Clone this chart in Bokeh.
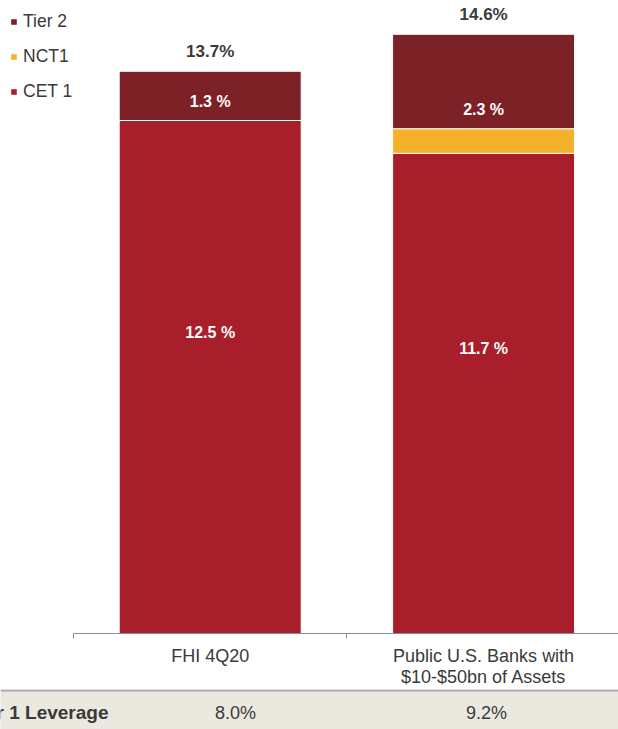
from bokeh.plotting import figure
from bokeh.models import Range1d, FixedTicker, Legend, LegendItem, ColumnDataSource, Label, Span
from bokeh.layouts import column
from bokeh.core.properties import value
from bokeh.embed import file_html
from bokeh.resources import INLINE

# ---- data ----
categories = ["FHI 4Q20", "Public U.S. Banks with\n$10-$50bn of Assets"]
cet1 = [12.5, 11.7]
nct1 = [0.0, 0.6]
tier2 = [1.2, 2.3]
cet1_labels = ["12.5 %", "11.7 %"]
tier2_labels = ["1.3 %", "2.3 %"]
total_labels = ["13.7%", "14.6%"]
series_names = ["Tier 2", "NCT1", "CET 1"]
leverage_name = "Tier 1 Leverage"
leverage_values = ["8.0%", "9.2%"]

# ---- styles ----
C_CET1 = "#a81e2a"
C_NCT1 = "#f5b12c"
C_T2 = "#7c2126"
FONT = value("Liberation Sans")
TXT = "#3a3a3a"

W = 618
CAT_PX = 273.4          # pixel width of one category
PX_PER_UNIT = 41.04     # pixels per percentage point
AXIS_LEFT = 73          # where the axis line starts
FRAME_H = 633
TOP_H = 689
TABLE_H = 729 - TOP_H

xs = [i + 0.5 for i in range(len(categories))]
nct_top = [c + n for c, n in zip(cet1, nct1)]
t2_top = [c + n + t for c, n, t in zip(cet1, nct1, tier2)]

src = ColumnDataSource(dict(
    x=xs, cet1=cet1, cet_mid=[c / 2 for c in cet1], nct_top=nct_top, t2_top=t2_top,
    cet_lab=cet1_labels, t2_lab=tier2_labels, tot_lab=total_labels,
))

p = figure(width=W, height=TOP_H,
           x_range=Range1d(-AXIS_LEFT / CAT_PX, (W - AXIS_LEFT) / CAT_PX),
           y_range=Range1d(0, FRAME_H / PX_PER_UNIT),
           output_backend="svg", toolbar_location=None,
           min_border_left=0, min_border_right=0, min_border_top=0,
           min_border_bottom=TOP_H - FRAME_H, y_axis_location=None)
p.frame_height = FRAME_H
p.frame_width = W
p.grid.visible = False
p.outline_line_color = None

bw = 182 / CAT_PX
r_c = p.vbar(x="x", bottom=0, top="cet1", width=bw, fill_color=C_CET1,
             line_color="white", line_width=1, source=src)
r_n = p.vbar(x="x", bottom="cet1", top="nct_top", width=bw, fill_color=C_NCT1,
             line_color="white", line_width=1, source=src)
r_t = p.vbar(x="x", bottom="nct_top", top="t2_top", width=bw, fill_color=C_T2,
             line_color="white", line_width=1, source=src)

p.text(x="x", y="cet_mid", text="cet_lab", y_offset=-44.5, text_align="center",
       text_baseline="middle", text_color="white", text_font=FONT,
       text_font_style="bold", text_font_size="16px", source=src)
p.text(x="x", y="nct_top", text="t2_lab", y_offset=-19, text_align="center",
       text_baseline="middle", text_color="white", text_font=FONT,
       text_font_style="bold", text_font_size="16px", source=src)
p.text(x="x", y="t2_top", text="tot_lab", y_offset=-19.5, text_align="center",
       text_baseline="middle", text_color=TXT, text_font=FONT,
       text_font_style="bold", text_font_size="17px", source=src)

ax = p.xaxis[0]
ax.bounds = (0, len(categories))
ax.ticker = FixedTicker(ticks=xs, minor_ticks=list(range(len(categories) + 1)))
ax.major_label_overrides = {x: c for x, c in zip(xs, categories)}
ax.axis_line_color = "#8c8c8c"
ax.axis_line_width = 1
ax.major_tick_line_color = None
ax.major_tick_out = 0
ax.major_tick_in = 0
ax.minor_tick_line_color = "#8c8c8c"
ax.minor_tick_out = 5
ax.minor_tick_in = 0
ax.major_label_standoff = 7
ax.major_label_text_font = "Liberation Sans"
ax.major_label_text_font_size = "18px"
ax.major_label_text_line_height = 1.05
ax.major_label_text_color = TXT

# legend swatches: proxy renderers without white outline
sw_t = p.vbar(x=[xs[0]], top=[0], width=0, fill_color=C_T2, line_color=None, visible=False)
sw_n = p.vbar(x=[xs[0]], top=[0], width=0, fill_color=C_NCT1, line_color=None, visible=False)
sw_c = p.vbar(x=[xs[0]], top=[0], width=0, fill_color=C_CET1, line_color=None, visible=False)

legend = Legend(items=[LegendItem(label=series_names[0], renderers=[sw_t]),
                       LegendItem(label=series_names[1], renderers=[sw_n]),
                       LegendItem(label=series_names[2], renderers=[sw_c])],
                location="top_left", orientation="vertical",
                glyph_width=7, glyph_height=7, label_height=22, spacing=13,
                label_standoff=6, padding=0, margin=10,
                border_line_color=None, background_fill_alpha=0,
                label_text_font="Liberation Sans", label_text_font_size="17.5px",
                label_text_color=TXT, click_policy="none")
legend.inactive_fill_alpha = 0
p.add_layout(legend, "center")

# ---- table row ----
q = figure(width=W, height=TABLE_H, x_range=Range1d(0, W), y_range=Range1d(0, TABLE_H),
           output_backend="svg", toolbar_location=None, min_border=0,
           x_axis_location=None, y_axis_location=None,
           background_fill_color="#ebe8e0", border_fill_color="#ebe8e0")
q.grid.visible = False
q.outline_line_color = None
q.add_layout(Span(location=TABLE_H - 1, dimension="width", line_color="#a8a8a8", line_width=2))
q.add_layout(Label(x=108, y=17, x_units="screen", y_units="screen", text=leverage_name,
                   text_align="right", text_baseline="middle", text_font="Liberation Sans",
                   text_font_style="bold", text_font_size="19px", text_color=TXT))
for cx, t in zip([235, 486], leverage_values):
    q.add_layout(Label(x=cx, y=17, x_units="screen", y_units="screen", text=t,
                       text_align="center", text_baseline="middle",
                       text_font="Liberation Sans", text_font_size="18px",
                       text_color=TXT))

layout = column(p, q, spacing=0)
open("out.html", "w").write(file_html(layout, INLINE))
